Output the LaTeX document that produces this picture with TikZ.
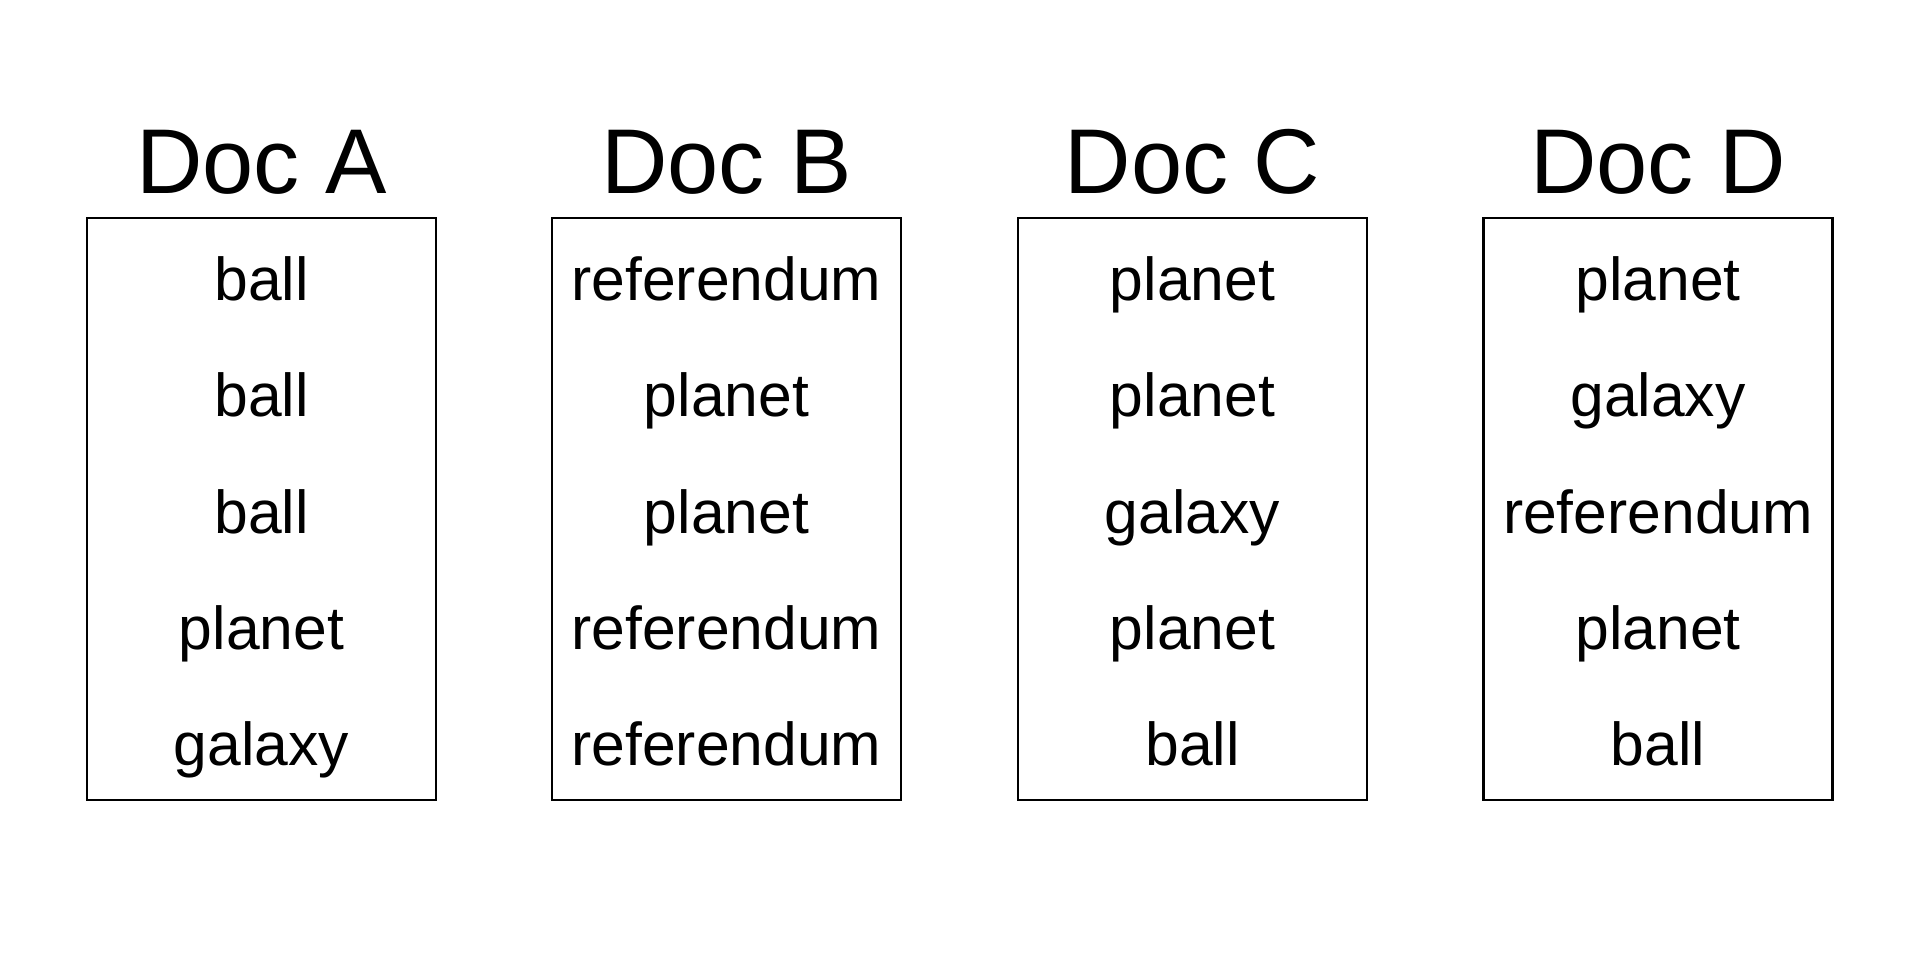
\documentclass[tikz,border=0pt]{standalone}
\usepackage{fontspec}
\setmainfont{Liberation Sans}
\begin{document}
\begin{tikzpicture}[x=0.5pt,y=-0.5pt,
  docbox/.style={draw=black, line width=1.2pt, minimum width=174.5pt, minimum height=291pt, inner sep=0pt},
  doctitle/.style={anchor=base, font=\fontsize{46}{46}\selectfont, inner sep=0pt},
  word/.style={anchor=base, font=\fontsize{30.3}{30.3}\selectfont, inner sep=0pt}]
\fill[white] (0,0) rectangle (1920,960);
\useasboundingbox (0,0) rectangle (1920,960);
\foreach \n/\cx/\t/\qa/\qb/\qc/\qd/\qe in {
  A/261.5/Doc A/ball/ball/ball/planet/galaxy,
  B/726.5/Doc B/referendum/planet/planet/referendum/referendum,
  C/1192.5/Doc C/planet/planet/galaxy/planet/ball,
  D/1658/Doc D/planet/galaxy/referendum/planet/ball}{
  \node[docbox] (box\n) at (\cx,509) {};
  \node[doctitle] (title\n) at (\cx,193.5) {\t};
  \node[word] (w\n1) at (\cx,300) {\qa};
  \node[word] (w\n2) at (\cx,416) {\qb};
  \node[word] (w\n3) at (\cx,533) {\qc};
  \node[word] (w\n4) at (\cx,649) {\qd};
  \node[word] (w\n5) at (\cx,765) {\qe};
}
\end{tikzpicture}
\end{document}
